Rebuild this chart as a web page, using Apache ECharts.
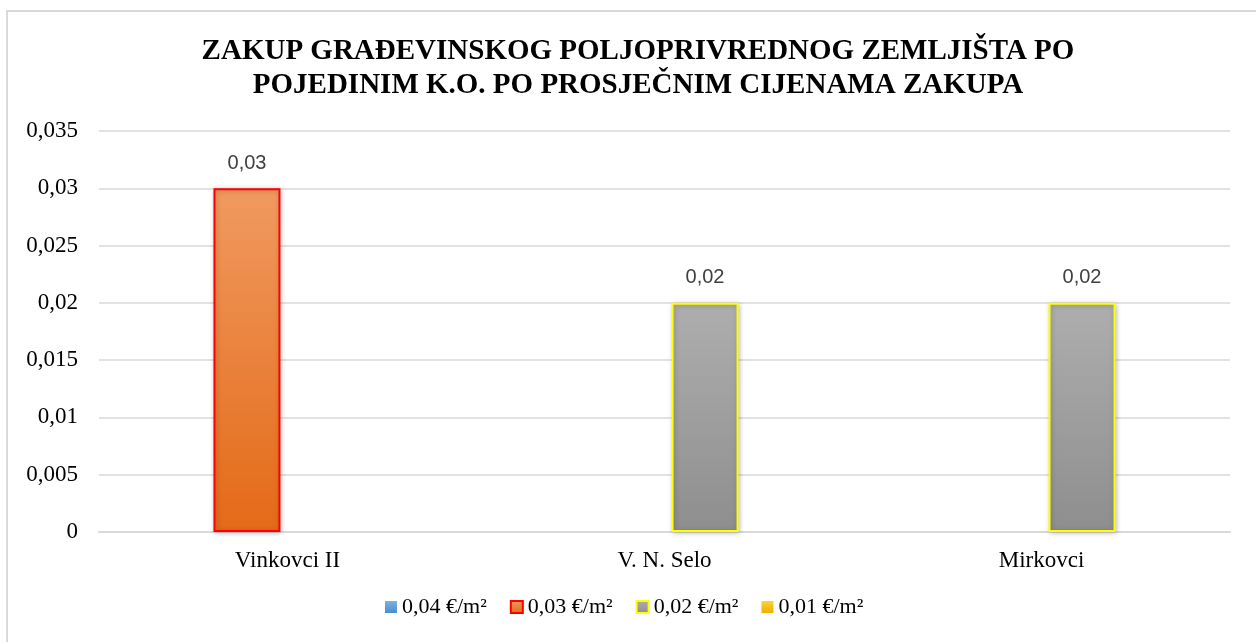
<!DOCTYPE html>
<html>
<head>
<meta charset="utf-8">
<script src="https://cdn.jsdelivr.net/npm/echarts@6/dist/echarts.min.js"></script>
<style>
  html, body { margin: 0; padding: 0; background: #fff; }
  #chart { width: 1256px; height: 642px; }
</style>
</head>
<body>
<div id="chart"></div>
<script>
// Zakup građevinskog poljoprivrednog zemljišta — grouped bars, one slot per price class.
const categories = ["Vinkovci II", "V. N. Selo", "Mirkovci"];
const seriesNames = ["0,04 €/m²", "0,03 €/m²", "0,02 €/m²", "0,01 €/m²"];
const price004 = [null, null, null];
const price003 = [0.03, null, null];
const price002 = [null, 0.02, 0.02];
const price001 = [null, null, null];
const yTicks = { min: 0, max: 0.035, interval: 0.005 };

const comma = (v) => String(+Number(v).toFixed(3)).replace(".", ",");
const grad = (top, bottom) => new echarts.graphic.LinearGradient(0, 0, 0, 1,
  [{ offset: 0, color: top }, { offset: 1, color: bottom }]);

function barSeries(name, data, top, bottom, border) {
  return {
    name: name,
    type: "bar",
    data: data,
    barWidth: 67,
    barGap: "21%",
    itemStyle: {
      color: grad(top, bottom),
      borderColor: border || "transparent",
      borderWidth: border ? 2 : 0,
      shadowBlur: 5,
      shadowColor: "rgba(0,0,0,0.25)",
      shadowOffsetX: 1,
      shadowOffsetY: 1,
    },
    label: {
      show: true,
      position: "top",
      distance: 15,
      formatter: (p) => comma(p.value),
      fontFamily: "Liberation Sans",
      fontSize: 20,
      color: "#404040",
    },
  };
}

const chart = echarts.init(document.getElementById("chart"));
chart.setOption({
  animation: false,
  graphic: [{
    type: "rect",
    shape: { x: 7, y: 11, width: 1300, height: 700 },
    style: { fill: "none", stroke: "#d9d9d9", lineWidth: 2 },
    silent: true,
  }],
  title: {
    text: "ZAKUP GRAĐEVINSKOG POLJOPRIVREDNOG ZEMLJIŠTA PO\nPOJEDINIM K.O. PO PROSJEČNIM CIJENAMA ZAKUPA",
    left: 633,
    top: 30,
    textAlign: "center",
    textStyle: {
      fontFamily: "Liberation Serif",
      fontWeight: "bold",
      fontSize: 29,
      lineHeight: 34,
      color: "#000",
    },
  },
  legend: {
    data: seriesNames,
    left: 380,
    top: 591,
    icon: "rect",
    itemWidth: 12,
    itemHeight: 12,
    itemGap: 23,
    textStyle: { fontFamily: "Liberation Serif", fontSize: 22, color: "#000" },
  },
  grid: { left: 99, right: 26, top: 131, bottom: 110 },
  xAxis: {
    type: "category",
    data: categories,
    axisLine: { lineStyle: { color: "#d9d9d9", width: 2 } },
    axisTick: { show: false },
    axisLabel: { margin: 17, fontFamily: "Liberation Serif", fontSize: 23, color: "#000" },
  },
  yAxis: {
    type: "value",
    min: yTicks.min,
    max: yTicks.max,
    interval: yTicks.interval,
    axisLine: { show: false },
    axisTick: { show: false },
    splitLine: { lineStyle: { color: "#d9d9d9", width: 1.5 } },
    axisLabel: { margin: 21, fontFamily: "Liberation Serif", fontSize: 23, color: "#000", formatter: comma },
  },
  series: [
    barSeries(seriesNames[0], price004, "#7fb1e0", "#4a8ccc"),
    barSeries(seriesNames[1], price003, "#f09a60", "#e46a17", "#ff0000"),
    barSeries(seriesNames[2], price002, "#aeaeae", "#8e8e8e", "#ffff00"),
    barSeries(seriesNames[3], price001, "#ffcf3a", "#f0b000"),
  ],
});
</script>
</body>
</html>
